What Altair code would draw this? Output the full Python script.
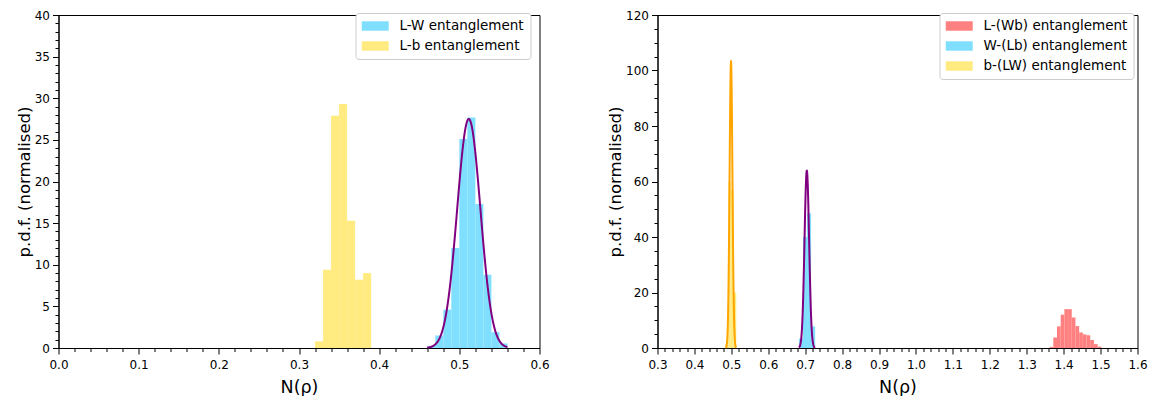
import altair as alt
import pandas as pd

# ---------------- data ----------------
lw_lo = [0.46, 0.47, 0.48, 0.49, 0.50, 0.51, 0.52, 0.53, 0.54, 0.55]
lw_hi = [0.47, 0.48, 0.49, 0.50, 0.51, 0.52, 0.53, 0.54, 0.55, 0.56]
lw_pdf = [0.25, 1.5, 4.6, 12.0, 25.1, 27.7, 17.3, 8.8, 1.9, 0.55]

lb_lo = [0.32, 0.33, 0.34, 0.35, 0.36, 0.37, 0.38]
lb_hi = [0.33, 0.34, 0.35, 0.36, 0.37, 0.38, 0.39]
lb_pdf = [0.8, 9.4, 27.9, 29.3, 15.3, 8.2, 9.0]

lw_fit = [0.5118, 0.0145, 0.46, 0.56]

lwb_lo = [1.362, 1.372, 1.382, 1.392, 1.402, 1.412, 1.422, 1.432, 1.442, 1.452, 1.462, 1.472, 1.482, 1.492]
lwb_hi = [1.372, 1.382, 1.392, 1.402, 1.412, 1.422, 1.432, 1.442, 1.452, 1.462, 1.472, 1.482, 1.492, 1.502]
lwb_pdf = [0.4, 3.8, 7.8, 12.0, 14.0, 14.0, 11.0, 7.9, 5.6, 4.9, 4.6, 2.9, 1.4, 0.5]

wlb_lo = [0.683, 0.694, 0.705, 0.716]
wlb_hi = [0.694, 0.705, 0.716, 0.727]
wlb_pdf = [3.4, 40.0, 48.6, 7.8]

blw_lo = [0.4842, 0.4915, 0.4987, 0.5060]
blw_hi = [0.4915, 0.4987, 0.5060, 0.5132]
blw_pdf = [1.4, 60.0, 57.0, 20.0]

wlb_fit = [0.7044, 0.00624, 0.683, 0.727]
blw_fit = [0.4991, 0.00386, 0.4842, 0.5132]

left_names = ["L-W entanglement", "L-b entanglement"]
right_names = ["L-(Wb) entanglement", "W-(Lb) entanglement", "b-(LW) entanglement"]

left_xticks = [round(0.02 * i, 2) for i in range(31)]
left_yticks = list(range(0, 41))
right_xticks = [round(0.3 + 0.02 * i, 2) for i in range(66)]
right_yticks = list(range(0, 121, 5))

BLUE = "#80dfff"
YELLOW = "#ffeb80"
RED = "#ff8080"
PURPLE = "#800080"
ORANGE = "#ffa500"

FONT = "DejaVu Sans"


def hist_frame(parts):
    rows = []
    for name, lo, hi, pdf in parts:
        for a, b, h in zip(lo, hi, pdf):
            rows.append({"series": name, "lo": a, "hi": b, "pdf": h})
    return pd.DataFrame(rows)


def axis(values, test, fmt, title, title_size, title_pad, label_pad):
    return alt.Axis(
        values=values,
        labelExpr=f"({test}) ? format(datum.value, '{fmt}') : ''",
        tickSize={"condition": {"test": test, "value": 6}, "value": 3.5},
        tickColor="black",
        tickWidth=1,
        domainColor="black",
        domainWidth=1,
        labelColor="black",
        labelFont=FONT,
        labelFontSize=12,
        labelPadding=label_pad,
        labelOverlap=False,
        labelFlush=False,
        grid=False,
        title=title,
        titleFont=FONT,
        titleFontSize=title_size,
        titleFontWeight="normal",
        titleColor="black",
        titlePadding=title_pad,
    )


XTEST = "abs(datum.value*10 - round(datum.value*10)) < 0.000001"

legend_common = dict(
    orient="none",
    title=None,
    labelFont=FONT,
    labelFontSize=13.5,
    labelColor="black",
    labelOffset=24,
    symbolType="M-1,-0.7L3,-0.7L3,0.7L-1,0.7Z",
    symbolSize=182,
    symbolStrokeWidth=0,
    symbolOpacity=1,
    padding=6,
    rowPadding=6,
    strokeColor="#cccccc",
    fillColor="white",
    cornerRadius=3,
    legendY=-2,
)


def curve(fit, xscale, yscale, color, xaxis, yaxis):
    mu, sd, lo, hi = fit
    return (
        alt.Chart(alt.sequence(start=lo, stop=hi, step=(hi - lo) / 400, as_="x"))
        .transform_calculate(
            y=f"exp(-0.5*pow((datum.x-({mu}))/{sd},2))/({sd}*sqrt(2*PI))"
        )
        .mark_line(color=color, strokeWidth=2)
        .encode(
            x=alt.X("x:Q", scale=xscale, axis=xaxis),
            y=alt.Y("y:Q", scale=yscale, axis=yaxis),
        )
    )


YTITLE = "p.d.f. (normalised)"
XTITLE = "N(ρ)"

# ---------------- left panel ----------------
lx = alt.Scale(domain=[0, 0.6], nice=False, zero=False)
ly = alt.Scale(domain=[0, 40], nice=False)
lxa = axis(left_xticks, XTEST, ".1f", XTITLE, 17.5, 8, 5)
lya = axis(left_yticks, "datum.value % 5 == 0", "d", YTITLE, 16.5, 2, 3)
left_df = hist_frame([
    (left_names[0], lw_lo, lw_hi, lw_pdf),
    (left_names[1], lb_lo, lb_hi, lb_pdf),
])
left_hist = alt.Chart(left_df).mark_rect().encode(
    x=alt.X("lo:Q", scale=lx, axis=lxa),
    x2="hi:Q",
    y=alt.Y("pdf:Q", scale=ly, axis=lya),
    y2=alt.datum(0),
    color=alt.Color(
        "series:N",
        scale=alt.Scale(domain=left_names, range=[BLUE, YELLOW]),
        legend=alt.Legend(legendX=297, **legend_common),
    ),
)
left = alt.layer(left_hist, curve(lw_fit, lx, ly, PURPLE, lxa, lya)).properties(width=481, height=333)

# ---------------- right panel ----------------
rx = alt.Scale(domain=[0.3, 1.6], nice=False, zero=False)
ry = alt.Scale(domain=[0, 120], nice=False)
rxa = axis(right_xticks, XTEST, ".1f", XTITLE, 17.5, 8, 5)
rya = axis(right_yticks, "datum.value % 20 == 0", "d", YTITLE, 16.5, 2, 3)
right_df = hist_frame([
    (right_names[0], lwb_lo, lwb_hi, lwb_pdf),
    (right_names[1], wlb_lo, wlb_hi, wlb_pdf),
    (right_names[2], blw_lo, blw_hi, blw_pdf),
])
right_hist = alt.Chart(right_df).mark_rect().encode(
    x=alt.X("lo:Q", scale=rx, axis=rxa),
    x2="hi:Q",
    y=alt.Y("pdf:Q", scale=ry, axis=rya),
    y2=alt.datum(0),
    color=alt.Color(
        "series:N",
        scale=alt.Scale(domain=right_names, range=[RED, BLUE, YELLOW]),
        legend=alt.Legend(legendX=282, **legend_common),
    ),
)
right = alt.layer(
    right_hist,
    curve(wlb_fit, rx, ry, PURPLE, rxa, rya),
    curve(blw_fit, rx, ry, ORANGE, rxa, rya),
).properties(width=480, height=333)

chart = (
    alt.hconcat(left, right, spacing=56)
    .resolve_scale(color="independent")
    .properties(padding={"left": 7.5, "top": 0, "right": 0, "bottom": 0})
    .configure(font=FONT)
    .configure_view(stroke="black", strokeWidth=1)
)

chart.save("out.html", embed_options={"renderer": "svg", "actions": False})
